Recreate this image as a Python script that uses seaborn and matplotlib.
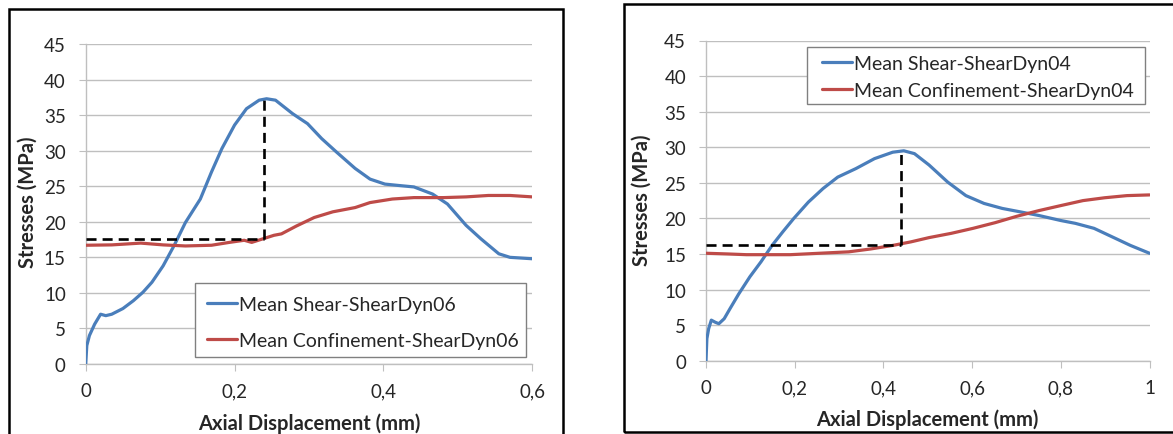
import matplotlib
matplotlib.use("Agg")
import numpy as np
import pandas as pd
import seaborn as sns
import matplotlib.pyplot as plt
from matplotlib.patches import Rectangle

# ---- data ----
shear06_x = [0, 0.0015, 0.005, 0.012, 0.02, 0.027, 0.035, 0.05, 0.064, 0.077, 0.089, 0.104,
             0.119, 0.134, 0.154, 0.169, 0.183, 0.2, 0.216, 0.233, 0.243, 0.255, 0.278, 0.298,
             0.317, 0.337, 0.362, 0.382, 0.402, 0.421, 0.441, 0.466, 0.486, 0.511, 0.531,
             0.555, 0.57, 0.6]
shear06_y = [0, 2.6, 4.0, 5.6, 7.0, 6.8, 7.0, 7.8, 8.9, 10.1, 11.5, 13.8,
             16.7, 19.9, 23.2, 27.0, 30.3, 33.6, 35.9, 37.1, 37.3, 37.1, 35.2, 33.8,
             31.7, 29.8, 27.5, 26.0, 25.3, 25.1, 24.9, 23.9, 22.5, 19.5, 17.6,
             15.5, 15.0, 14.8]
conf06_x = [0, 0.035, 0.074, 0.104, 0.134, 0.169, 0.193, 0.213, 0.223, 0.238, 0.253, 0.263,
            0.283, 0.307, 0.332, 0.362, 0.382, 0.412, 0.441, 0.481, 0.511, 0.541, 0.57, 0.6]
conf06_y = [16.7, 16.75, 17.0, 16.75, 16.6, 16.7, 17.1, 17.4, 17.1, 17.6, 18.1, 18.3,
            19.4, 20.6, 21.4, 22.0, 22.7, 23.2, 23.4, 23.4, 23.5, 23.7, 23.7, 23.5]
peak06 = (0.24, 37.2, 17.6)  # displacement at peak, peak shear, confinement at peak

shear04_x = [0, 0.002, 0.006, 0.012, 0.021, 0.029, 0.041, 0.054, 0.074, 0.099, 0.124, 0.149,
             0.173, 0.198, 0.231, 0.264, 0.297, 0.338, 0.38, 0.421, 0.446, 0.47, 0.503, 0.545,
             0.586, 0.627, 0.668, 0.71, 0.751, 0.8, 0.833, 0.875, 0.916, 0.957, 1.0]
shear04_y = [0, 3.1, 4.5, 5.7, 5.4, 5.2, 5.9, 7.3, 9.4, 11.8, 13.9, 16.2,
             18.1, 20.0, 22.3, 24.2, 25.8, 27.0, 28.4, 29.3, 29.5, 29.1, 27.5, 25.1,
             23.2, 22.1, 21.4, 20.9, 20.4, 19.7, 19.3, 18.6, 17.4, 16.2, 15.1]
conf04_x = [0, 0.05, 0.091, 0.132, 0.19, 0.256, 0.322, 0.371, 0.421, 0.462, 0.503, 0.553,
            0.602, 0.652, 0.701, 0.751, 0.8, 0.85, 0.899, 0.949, 1.0]
conf04_y = [15.1, 15.0, 14.9, 14.9, 14.9, 15.1, 15.3, 15.7, 16.2, 16.7, 17.3, 17.9,
            18.6, 19.4, 20.3, 21.1, 21.8, 22.5, 22.9, 23.2, 23.3]
peak04 = (0.44, 29.4, 16.2)

labels06 = ["Mean Shear-ShearDyn06", "Mean Confinement-ShearDyn06"]
labels04 = ["Mean Shear-ShearDyn04", "Mean Confinement-ShearDyn04"]
xticks06 = [0, 0.2, 0.4, 0.6]
xticklabels06 = ["0", "0,2", "0,4", "0,6"]
xticks04 = [0, 0.2, 0.4, 0.6, 0.8, 1.0]
xticklabels04 = ["0", "0,2", "0,4", "0,6", "0,8", "1"]
yticks = [0, 5, 10, 15, 20, 25, 30, 35, 40, 45]

BLUE = "#4A7EBB"
RED = "#BE4B48"
GRID = "#BFBFBF"

sns.set_style("white")
plt.rcParams['font.family'] = ['Lato', 'DejaVu Sans']

W, H = 1173, 435
fig = plt.figure(figsize=(W / 100, H / 100), dpi=100)


def px_axes(x0, x1, y_top, y_bot):
    return fig.add_axes([x0 / W, 1 - y_bot / H, (x1 - x0) / W, (y_bot - y_top) / H])


def px_box(x0, y0, x1, y1, **kw):
    # rectangle given in image pixels (y down)
    r = Rectangle((x0 / W, 1 - y1 / H), (x1 - x0) / W, (y1 - y0) / H,
                  transform=fig.transFigure, **kw)
    fig.add_artist(r)
    return r


def draw_panel(ax, sx, sy, cx, cy, labels, peak, xticks, xticklabels, xmax):
    df = pd.concat([
        pd.DataFrame({"disp": sx, "stress": sy, "series": labels[0]}),
        pd.DataFrame({"disp": cx, "stress": cy, "series": labels[1]}),
    ])
    sns.lineplot(data=df, x="disp", y="stress", hue="series", palette=[BLUE, RED],
                 estimator=None, sort=False, linewidth=2.3, ax=ax, zorder=3)
    px, py, pc = peak
    ax.plot([0, px], [pc, pc], color="black", ls=(0, (3.8, 2.3)), lw=1.9, zorder=4)
    ax.plot([px, px], [pc, py], color="black", ls=(0, (3.8, 2.3)), lw=1.9, zorder=4)
    ax.set_xlim(0, xmax)
    ax.set_ylim(0, 45)
    ax.set_xticks(xticks)
    ax.set_xticklabels(xticklabels)
    ax.set_yticks(yticks)
    ax.grid(axis="y", color=GRID, lw=1)
    ax.grid(axis="x", visible=False)
    for s in ["top", "right"]:
        ax.spines[s].set_visible(False)
    for s in ["left", "bottom"]:
        ax.spines[s].set_color(GRID)
        ax.spines[s].set_linewidth(1)
    ax.tick_params(axis="y", direction="out", length=5.3, width=0.8, color=GRID,
                   pad=9, labelsize=13.5, left=True)
    ax.tick_params(axis="x", direction="out", length=4.8, width=0.8, color=GRID,
                   pad=8.5, labelsize=13.5, bottom=True)
    ax.set_xlabel("Axial Displacement (mm)", fontsize=14.5, fontweight="bold", va="center")
    ax.set_ylabel("Stresses (MPa)", fontsize=14.5, fontweight="bold", va="center")
    h, l = ax.get_legend_handles_labels()
    ax.get_legend().remove()
    return h, l


def add_legend(h, l, x_handle, y_top, spacing):
    leg = fig.legend(h, l, loc="upper left", bbox_to_anchor=(x_handle / W, 1 - y_top / H),
                     fontsize=14, frameon=False, borderpad=0, labelspacing=spacing,
                     handlelength=1.55, handletextpad=0.12, borderaxespad=0)
    leg.set_zorder(6)
    return leg


# left chart
ax1 = px_axes(85.7, 532.3, 45, 365)
h, l = draw_panel(ax1, shear06_x, shear06_y, conf06_x, conf06_y, labels06, peak06,
                  xticks06, xticklabels06, 0.6)
ax1.xaxis.set_label_coords(0.5, -0.182)
ax1.yaxis.set_label_coords(-0.13, 0.51)
px_box(195, 284, 526, 358, facecolor="white", edgecolor="#808080", lw=1, zorder=2)
add_legend(h, l, 206.7, 297, 0.97)

# right chart
ax2 = px_axes(706, 1149.5, 41.5, 361.7)
h, l = draw_panel(ax2, shear04_x, shear04_y, conf04_x, conf04_y, labels04, peak04,
                  xticks04, xticklabels04, 1.0)
ax2.xaxis.set_label_coords(0.5, -0.18)
ax2.yaxis.set_label_coords(-0.144, 0.505)
px_box(806.7, 48.3, 1144.5, 105, facecolor="white", edgecolor="#808080", lw=1, zorder=2)
add_legend(h, l, 821.7, 56, 0.5)

# chart-area borders
px_box(8.7, 10, 563, 480, fill=False, edgecolor="black", lw=1.8, zorder=7)
px_box(624, 5, 1220, 433, fill=False, edgecolor="black", lw=1.8, zorder=7)

fig.savefig("out.png", dpi=100)
